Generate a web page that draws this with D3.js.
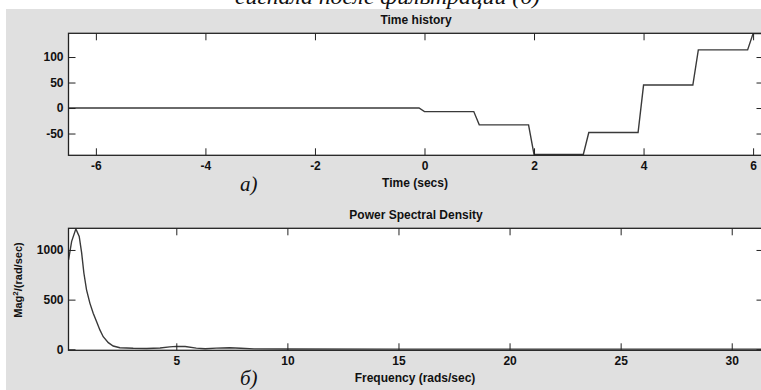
<!DOCTYPE html>
<html>
<head>
<meta charset="utf-8">
<style>
  body { margin: 0; width: 761px; height: 390px; overflow: hidden; background: #fff; }
  svg { display: block; }
  .tick text { font-family: "Liberation Sans", Arial, sans-serif; font-weight: bold; font-size: 12px; fill: #111; }
  .lbl { font-family: "Liberation Sans", Arial, sans-serif; font-weight: bold; font-size: 12px; fill: #111; }
  .cap { font-family: "Liberation Serif", "Times New Roman", serif; font-style: italic; font-size: 21px; fill: #111; }
</style>
</head>
<body>
<svg width="761" height="390"></svg>
<script src="https://d3js.org/d3.v7.min.js"></script>
<script>
// time history (step signal)
var timeT = [-6.5, -0.1, 0.0, 0.9, 1.0, 1.9, 2.0, 2.9, 3.0, 3.9, 4.0, 4.9, 5.0, 5.9, 6.0, 6.3];
var timeV = [0, 0, -7, -7, -33, -33, -91, -91, -48, -48, 45, 45, 114, 114, 146, 146];
var timeTicks = [-6, -4, -2, 0, 2, 4, 6];
var ampTicks = [-50, 0, 50, 100];

// power spectral density
var freqF = [0.15, 0.29, 0.48, 0.63, 0.74, 0.84, 0.96, 1.11, 1.26, 1.41, 1.56, 1.71, 1.94, 2.16, 2.46, 3.06, 3.67, 4.27, 4.7, 5.0, 5.4, 5.9, 6.3, 6.8, 7.4, 7.9, 8.5, 10, 15, 20, 25, 31.4];
var psdV  = [900, 1087, 1212, 1137, 970, 768, 599, 465, 364, 279, 195, 127, 67, 33, 16, 10, 8, 13, 25, 30, 28, 12, 5, 12, 16, 10, 4, 3, 2, 2, 2, 2];
var freqTicks = [5, 10, 15, 20, 25, 30];
var psdTicks = [0, 500, 1000];

var svg = d3.select("svg");
var plain = function(d) { return String(d); };   // hyphen minus, no thousands comma

// grey figure background
svg.append("rect").attr("x", 6).attr("y", 9).attr("width", 760).attr("height", 390).attr("fill", "#e0e0e0");

// caption cut by the top edge
svg.append("text").attr("class", "cap")
    .attr("x", 235).attr("y", 4)
    .attr("textLength", 305).attr("lengthAdjust", "spacingAndGlyphs")
    .text("сигнала после фильтрации (б)");

function panel(opt) {
  var x = d3.scaleLinear().domain(opt.xd).range([68.5, 763.5]);
  var y = d3.scaleLinear().domain(opt.yd).range([opt.bottom, opt.top]);
  var g = svg.append("g");
  var id = "clip" + Math.round(opt.top);
  g.append("clipPath").attr("id", id).append("rect")
    .attr("x", 68.5).attr("y", opt.top).attr("width", 695).attr("height", opt.bottom - opt.top);
  g.append("rect").attr("x", 68.5).attr("y", opt.top).attr("width", 695)
    .attr("height", opt.bottom - opt.top).attr("fill", "#fff");

  var line = d3.line().x(function(d) { return x(d[0]); }).y(function(d) { return y(d[1]); });
  g.append("path").datum(d3.zip(opt.xs, opt.ys))
    .attr("clip-path", "url(#" + id + ")")
    .attr("fill", "none").attr("stroke", "#3a3a3a").attr("stroke-width", 1.4)
    .attr("d", line);

  // axes, ticks inward like matlab
  g.append("g").attr("transform", "translate(0," + opt.bottom + ")")
    .call(d3.axisBottom(x).tickValues(opt.xt).tickSizeInner(-7).tickSizeOuter(0).tickPadding(6).tickFormat(plain))
    .call(function(a) { a.select(".domain").remove(); });
  g.append("g").attr("transform", "translate(0," + opt.top + ")")
    .call(d3.axisTop(x).tickValues(opt.xt).tickSizeInner(-7).tickSizeOuter(0).tickFormat(""))
    .call(function(a) { a.select(".domain").remove(); });
  g.append("g").attr("transform", "translate(68.5,0)")
    .call(d3.axisLeft(y).tickValues(opt.yt).tickSizeInner(-7).tickSizeOuter(0).tickPadding(5).tickFormat(plain))
    .call(function(a) { a.select(".domain").remove(); });
  g.append("g").attr("transform", "translate(763.5,0)")
    .call(d3.axisRight(y).tickValues(opt.yt).tickSizeInner(-7).tickSizeOuter(0).tickFormat(""))
    .call(function(a) { a.select(".domain").remove(); });
  g.selectAll(".tick line").attr("stroke", "#222");
  g.selectAll(".tick text").attr("font-family", null).attr("font-size", null);

  g.append("rect").attr("x", 68.5).attr("y", opt.top).attr("width", 695)
    .attr("height", opt.bottom - opt.top).attr("fill", "none").attr("stroke", "#222").attr("stroke-width", 1.3);

  g.append("text").attr("class", "lbl").attr("text-anchor", "middle")
    .attr("x", 416).attr("y", opt.top - 9).text(opt.title);
  g.append("text").attr("class", "lbl").attr("text-anchor", "middle")
    .attr("x", 415).attr("y", opt.bottom + 32).text(opt.xlabel);
}

panel({ xd: [-6.5, 6.19], yd: [-92.7, 146.5], top: 33.3, bottom: 155.3,
        xs: timeT, ys: timeV, xt: timeTicks, yt: ampTicks,
        title: "Time history", xlabel: "Time (secs)" });

panel({ xd: [0.148, 31.43], yd: [-10, 1218], top: 228.3, bottom: 350.3,
        xs: freqF, ys: psdV, xt: freqTicks, yt: psdTicks,
        title: "Power Spectral Density", xlabel: "Frequency (rads/sec)" });

// y label of the PSD
var yl = svg.append("text").attr("class", "lbl").attr("text-anchor", "middle")
    .attr("transform", "translate(22,280) rotate(-90)").style("font-size", "11px");
yl.append("tspan").text("Mag");
yl.append("tspan").attr("dy", -4).style("font-size", "8px").text("2");
yl.append("tspan").attr("dy", 4).text("/(rad/sec)");

svg.append("text").attr("class", "cap").attr("x", 240).attr("y", 191).text("a)");
svg.append("text").attr("class", "cap").attr("x", 240).attr("y", 385).text("б)");
</script>
</body>
</html>
